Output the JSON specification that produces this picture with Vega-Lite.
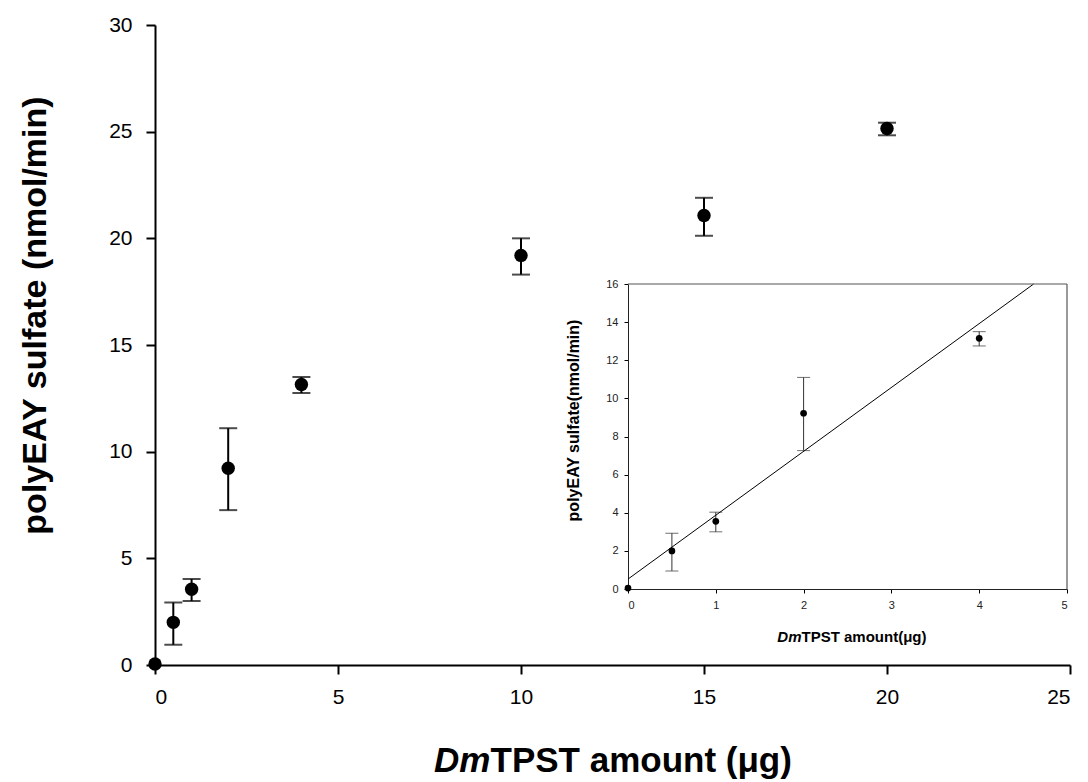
{
  "$schema": "https://vega.github.io/schema/vega-lite/v6.json",
  "width": 915,
  "height": 640,
  "autosize": {"type": "none"},
  "padding": {"left": 155, "top": 25, "right": 18, "bottom": 117},
  "background": "white",
  "config": {
    "view": {"stroke": null},
    "font": "Liberation Sans",
    "axis": {
      "grid": false,
      "labelFont": "Liberation Sans",
      "titleFont": "Liberation Sans",
      "labelColor": "black",
      "titleColor": "black",
      "domainColor": "black",
      "tickColor": "black"
    }
  },
  "datasets": {
    "pts": [
      {"x": 0, "y": 0.05, "lo": null, "hi": null},
      {"x": 0.5, "y": 2.0, "lo": 0.95, "hi": 2.93},
      {"x": 1, "y": 3.55, "lo": 3.0, "hi": 4.03},
      {"x": 2, "y": 9.22, "lo": 7.26, "hi": 11.1},
      {"x": 4, "y": 13.15, "lo": 12.75, "hi": 13.5},
      {"x": 10, "y": 19.2, "lo": 18.3, "hi": 20.0},
      {"x": 15, "y": 21.07, "lo": 20.12, "hi": 21.9},
      {"x": 20, "y": 25.15, "lo": 24.83, "hi": 25.42}
    ],
    "fit": [
      {"x": 0, "y": 0.52},
      {"x": 4.62, "y": 16}
    ],
    "frame": [
      {"x1": 0, "x2": 5, "y1": 16, "y2": 16},
      {"x1": 5, "x2": 5, "y1": 0, "y2": 16}
    ]
  },
  "layer": [
    {
      "data": {"name": "pts"},
      "encoding": {
        "x": {
          "field": "x", "type": "quantitative",
          "title": "TPST amount (μg)",
          "scale": {"domain": [0, 25], "nice": false, "zero": false},
          "axis": {
            "orient": "bottom",
            "values": [0, 5, 10, 15, 20, 25],
            "domainWidth": 2, "tickWidth": 2, "tickSize": 9,
            "labelFontSize": 21, "labelPadding": 12,
            "titleFontSize": 35, "titleFontWeight": "bold",
            "titleAlign": "left", "titleX": 335, "titleY": 106,
            "titleBaseline": "alphabetic"
          }
        }
      },
      "layer": [
        {
          "transform": [{"filter": "datum.lo != null"}],
          "mark": {"type": "rule", "strokeWidth": 2, "color": "black"},
          "encoding": {
            "y": {
              "field": "lo", "type": "quantitative",
              "title": "polyEAY sulfate (nmol/min)",
              "scale": {"domain": [0, 30], "nice": false, "zero": false},
              "axis": {
                "orient": "left",
                "values": [0, 5, 10, 15, 20, 25, 30],
                "domainWidth": 2, "tickWidth": 2, "tickSize": 9,
                "labelFontSize": 21, "labelPadding": 14,
                "titleFontSize": 34, "titleFontWeight": "bold",
                "titleAngle": 270, "titleAlign": "center",
                "titleBaseline": "alphabetic",
                "titleX": -110, "titleY": 290
              }
            },
            "y2": {"field": "hi"}
          }
        },
        {
          "transform": [{"filter": "datum.lo != null"}],
          "mark": {"type": "tick", "orient": "horizontal", "size": 18, "thickness": 2, "color": "black"},
          "encoding": {"y": {"field": "lo", "type": "quantitative", "title": "polyEAY sulfate (nmol/min)"}}
        },
        {
          "transform": [{"filter": "datum.hi != null"}],
          "mark": {"type": "tick", "orient": "horizontal", "size": 18, "thickness": 2, "color": "black"},
          "encoding": {"y": {"field": "hi", "type": "quantitative", "title": "polyEAY sulfate (nmol/min)"}}
        },
        {
          "mark": {"type": "point", "shape": "circle", "filled": true, "size": 180, "color": "black", "opacity": 1},
          "encoding": {"y": {"field": "y", "type": "quantitative", "title": "polyEAY sulfate (nmol/min)"}}
        }
      ]
    },
    {
      "encoding": {
        "x": {
          "field": "x", "type": "quantitative",
          "title": "TPST amount(μg)",
          "scale": {"domain": [0, 5], "nice": false, "zero": false, "range": [473, 912]},
          "axis": {
            "orient": "bottom", "offset": -76,
            "values": [0, 1, 2, 3, 4, 5],
            "domainWidth": 1, "domainColor": "#222", "tickWidth": 1, "tickSize": 4,
            "labelFontSize": 11, "labelPadding": 6, "labelColor": "#222",
            "titleFontSize": 15, "titleFontWeight": "bold",
            "titleAlign": "left", "titleX": 646, "titleY": 52,
            "titleBaseline": "alphabetic"
          }
        }
      },
      "layer": [
        {
          "data": {"name": "pts"},
          "transform": [{"filter": "datum.x <= 4 && datum.lo != null"}],
          "mark": {"type": "rule", "strokeWidth": 1, "color": "#333"},
          "encoding": {
            "y": {
              "field": "lo", "type": "quantitative",
              "title": "polyEAY sulfate(nmol/min)",
              "scale": {"domain": [0, 16], "nice": false, "zero": false, "range": [564, 259]},
              "axis": {
                "orient": "left", "offset": -473,
                "values": [0, 2, 4, 6, 8, 10, 12, 14, 16],
                "domainWidth": 1, "domainColor": "#222", "tickWidth": 1, "tickSize": 4,
                "labelFontSize": 11, "labelPadding": 6, "labelColor": "#222",
                "titleFontSize": 16, "titleFontWeight": "bold",
                "titleAngle": 270, "titleAlign": "center",
                "titleBaseline": "alphabetic",
                "titleX": -50, "titleY": 395
              }
            },
            "y2": {"field": "hi"}
          }
        },
        {
          "data": {"name": "pts"},
          "transform": [{"filter": "datum.x <= 4 && datum.lo != null"}],
          "mark": {"type": "tick", "orient": "horizontal", "size": 13, "thickness": 1, "color": "#333"},
          "encoding": {"y": {"field": "lo", "type": "quantitative", "title": "polyEAY sulfate(nmol/min)"}}
        },
        {
          "data": {"name": "pts"},
          "transform": [{"filter": "datum.x <= 4 && datum.hi != null"}],
          "mark": {"type": "tick", "orient": "horizontal", "size": 13, "thickness": 1, "color": "#333"},
          "encoding": {"y": {"field": "hi", "type": "quantitative", "title": "polyEAY sulfate(nmol/min)"}}
        },
        {
          "data": {"name": "pts"},
          "transform": [{"filter": "datum.x <= 4"}],
          "mark": {"type": "point", "shape": "circle", "filled": true, "size": 45, "color": "black", "opacity": 1},
          "encoding": {"y": {"field": "y", "type": "quantitative", "title": "polyEAY sulfate(nmol/min)"}}
        },
        {
          "data": {"name": "fit"},
          "mark": {"type": "line", "strokeWidth": 1, "color": "black"},
          "encoding": {"y": {"field": "y", "type": "quantitative", "title": "polyEAY sulfate(nmol/min)"}}
        },
        {
          "data": {"name": "frame"},
          "mark": {"type": "rule", "strokeWidth": 1.2, "color": "#555"},
          "encoding": {
            "x": {"field": "x1", "type": "quantitative"},
            "x2": {"field": "x2"},
            "y": {"field": "y1", "type": "quantitative", "title": "polyEAY sulfate(nmol/min)"},
            "y2": {"field": "y2"}
          }
        }
      ]
    },
    {
      "data": {"values": [{"v": 0}]},
      "mark": {"type": "point", "opacity": 0},
      "encoding": {
        "x": {
          "field": "v", "type": "quantitative",
          "scale": {"domain": [0, 25]},
          "axis": {
            "orient": "bottom", "domain": false, "ticks": false, "labels": false,
            "title": "Dm", "titleFontStyle": "italic",
            "titleFontSize": 35, "titleFontWeight": "bold",
            "titleAlign": "right", "titleX": 335, "titleY": 106,
            "titleBaseline": "alphabetic"
          }
        }
      }
    },
    {
      "data": {"values": [{"v": 0}]},
      "mark": {"type": "point", "opacity": 0},
      "encoding": {
        "x": {
          "field": "v", "type": "quantitative",
          "scale": {"domain": [0, 5]},
          "axis": {
            "orient": "bottom", "offset": -76, "domain": false, "ticks": false, "labels": false,
            "title": "Dm", "titleFontStyle": "italic",
            "titleFontSize": 15, "titleFontWeight": "bold",
            "titleAlign": "right", "titleX": 646, "titleY": 52,
            "titleBaseline": "alphabetic"
          }
        }
      }
    }
  ],
  "resolve": {"scale": {"x": "independent", "y": "independent"}}
}
